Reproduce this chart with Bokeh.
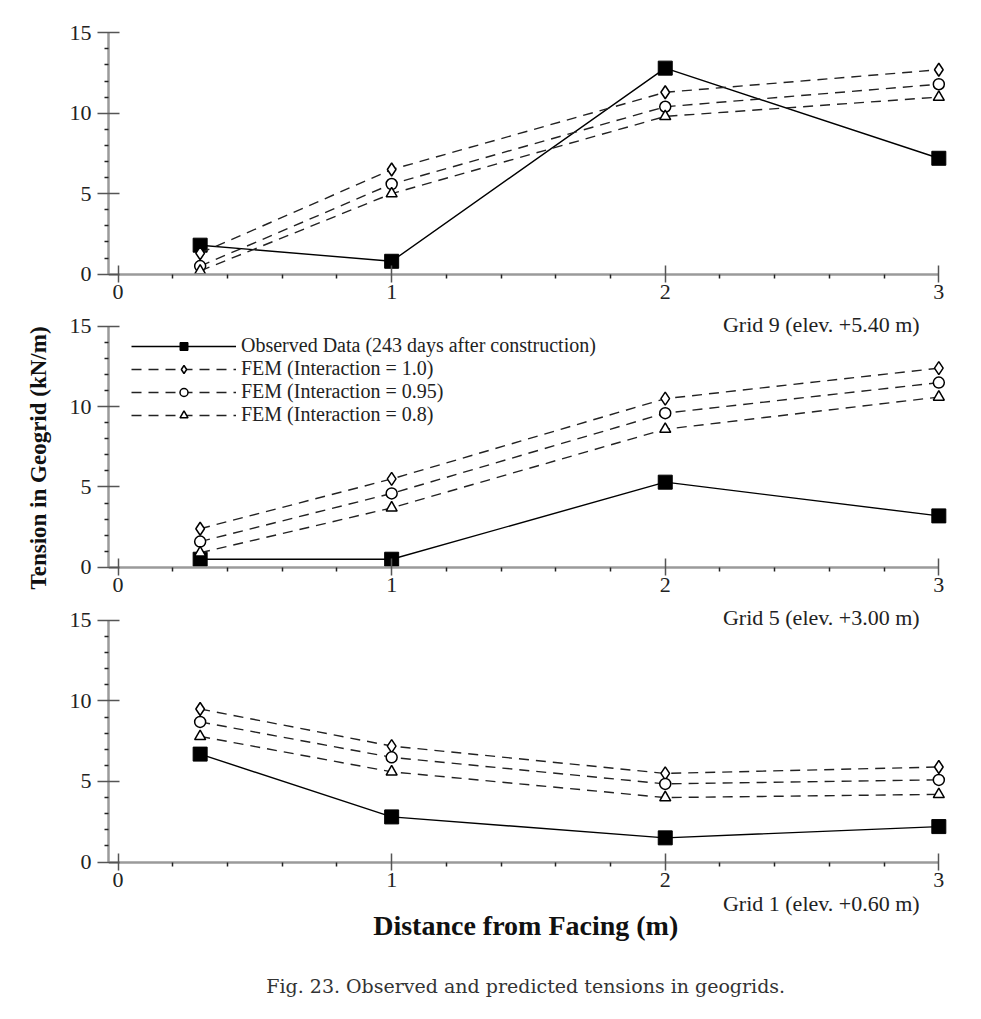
from bokeh.plotting import figure
from bokeh.models import Range1d, FixedTicker, Label, Legend, LegendItem
from bokeh.layouts import column
from bokeh.embed import file_html
from bokeh.resources import INLINE

# ---------------- data ----------------
x_dist = [0.3, 1.0, 2.0, 3.0]

grid_labels = ["Grid 9 (elev. +5.40 m)", "Grid 5 (elev. +3.00 m)", "Grid 1 (elev. +0.60 m)"]

obs_grid9 = [1.8, 0.8, 12.8, 7.2]
fem10_grid9 = [1.3, 6.5, 11.3, 12.7]
fem095_grid9 = [0.5, 5.6, 10.4, 11.8]
fem08_grid9 = [0.2, 5.0, 9.8, 11.0]

obs_grid5 = [0.5, 0.5, 5.3, 3.2]
fem10_grid5 = [2.4, 5.5, 10.5, 12.4]
fem095_grid5 = [1.6, 4.6, 9.6, 11.5]
fem08_grid5 = [0.9, 3.7, 8.6, 10.6]

obs_grid1 = [6.7, 2.8, 1.5, 2.2]
fem10_grid1 = [9.5, 7.2, 5.5, 5.9]
fem095_grid1 = [8.7, 6.5, 4.85, 5.1]
fem08_grid1 = [7.8, 5.6, 4.0, 4.2]

x_major = [0, 1, 2, 3]
x_minor = [0.2, 0.4, 0.6, 0.8, 1.2, 1.4, 1.6, 1.8, 2.2, 2.4, 2.6, 2.8]
y_major = [0, 5, 10, 15]
y_minor = [1, 2, 3, 4, 6, 7, 8, 9, 11, 12, 13, 14]

legend_labels = ["Observed Data (243 days after construction)",
                 "FEM (Interaction = 1.0)",
                 "FEM (Interaction = 0.95)",
                 "FEM (Interaction = 0.8)"]

x_title = "Distance from Facing (m)"
y_title = "Tension in Geogrid (kN/m)"
caption = "Fig. 23. Observed and predicted tensions in geogrids."

SERIF = "Liberation Serif"
W = 962
X0 = -0.035


def make_fig(height, top, y_start, y_end):
    p = figure(width=W, height=height, x_range=Range1d(X0, 3.05), y_range=Range1d(y_start, y_end),
               output_backend="svg", toolbar_location=None,
               min_border_left=108, min_border_right=10,
               min_border_top=top, min_border_bottom=0)
    p.outline_line_color = None
    p.grid.visible = False
    p.background_fill_color = "white"
    p.border_fill_color = "white"

    xa = p.xaxis[0]
    xa.ticker = FixedTicker(ticks=x_major, minor_ticks=x_minor)
    xa.fixed_location = 0
    xa.bounds = (X0, 3)
    ya = p.yaxis[0]
    ya.ticker = FixedTicker(ticks=y_major, minor_ticks=y_minor)
    ya.bounds = (0, 15)
    for ax in (xa, ya):
        ax.axis_line_color = "#9a9a9a"
        ax.axis_line_width = 2.5
        ax.major_tick_line_color = "#555555"
        ax.major_tick_line_width = 1.5
        ax.minor_tick_line_color = "#222222"
        ax.minor_tick_line_width = 1.5
        ax.minor_tick_in = 0
        ax.minor_tick_out = 4
        ax.major_label_text_font = SERIF
        ax.major_label_text_font_size = "22px"
        ax.major_label_text_color = "#222222"
    xa.major_tick_in = 9
    xa.major_tick_out = 8
    xa.major_label_standoff = 3
    ya.major_tick_in = 11
    ya.major_tick_out = 11
    ya.major_label_standoff = 6
    return p


def add_series(p, obs, f10, f095, f08):
    r = []
    l0 = p.line(x_dist, obs, line_color="black", line_width=1.4)
    s0 = p.scatter(x_dist, obs, marker="square", size=14, fill_color="black", line_color="black")
    r.append([l0, s0])
    specs = [(f10, "diamond", 13), (f095, "circle", 11), (f08, "triangle", 11)]
    for ys, mk, sz in specs:
        ln = p.line(x_dist, ys, line_color="#222222", line_width=1.4, line_dash="10 7")
        sc = p.scatter(x_dist, ys, marker=mk, size=sz, fill_color="white",
                       line_color="black", line_width=1.5)
        r.append([ln, sc])
    return r


def text_label(p, text, x, y, align, size, font=SERIF, style="normal", color="#222222"):
    p.add_layout(Label(x=x, y=y, text=text, text_align=align, text_baseline="middle",
                       text_font=font, text_font_size=size, text_font_style=style,
                       text_color=color))


# panel 1 : Grid 9
p1 = make_fig(311, 29, -2.32, 15.2)
add_series(p1, obs_grid9, fem10_grid9, fem095_grid9, fem08_grid9)

# panel 2 : Grid 5 (its frame also holds the Grid 9 caption line above it)
p2 = make_fig(293, 0, -2.32, 15.93)
rs = add_series(p2, obs_grid5, fem10_grid5, fem095_grid5, fem08_grid5)
text_label(p2, grid_labels[0], 2.93, 15.12, "right", "22px")
ya2 = p2.yaxis[0]
ya2.axis_label = y_title
ya2.axis_label_text_font = SERIF
ya2.axis_label_text_font_style = "bold"
ya2.axis_label_text_font_size = "23px"
ya2.axis_label_text_color = "#111111"
ya2.axis_label_standoff = 16
legend = Legend(items=[LegendItem(label=lab, renderers=rr) for lab, rr in zip(legend_labels, rs)],
                location="top_left", orientation="vertical",
                label_text_font=SERIF, label_text_font_size="20px", label_text_color="#222222",
                glyph_width=105, glyph_height=20, label_height=20, spacing=0,
                padding=4, margin=23, border_line_color=None, background_fill_alpha=0)
p2.add_layout(legend)

# panel 3 : Grid 1 (frame extends down to hold the axis title and the caption)
p3 = make_fig(401, 0, -8.91, 15.99)
add_series(p3, obs_grid1, fem10_grid1, fem095_grid1, fem08_grid1)
text_label(p3, grid_labels[1], 2.93, 15.19, "right", "22px")
text_label(p3, grid_labels[2], 2.93, -2.58, "right", "22px")
text_label(p3, x_title, 1.49, -3.94, "center", "28px", style="bold", color="#111111")
text_label(p3, caption, 1.49, -7.67, "center", "19px", font="DejaVu Serif", color="#333333")

layout = column(p1, p2, p3, spacing=0)
open("out.html", "w").write(file_html(layout, INLINE))
